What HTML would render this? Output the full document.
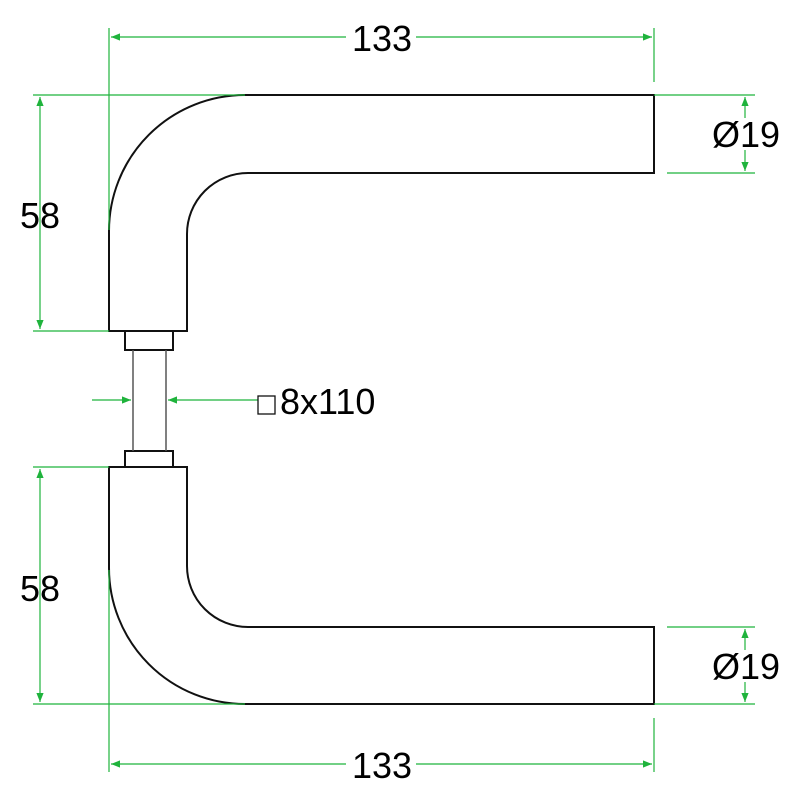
<!DOCTYPE html>
<html><head><style>body{margin:0;background:#fff}svg{display:block}</style></head><body>
<svg width="800" height="800" viewBox="0 0 800 800" xmlns="http://www.w3.org/2000/svg">
<defs>
<marker id="a" viewBox="0 0 10 10" refX="10" refY="5" markerWidth="16" markerHeight="9" markerUnits="userSpaceOnUse" orient="auto-start-reverse"><path d="M0,1 L10,5 L0,9z" fill="#1fb33c"/></marker>
</defs>
<g fill="none" stroke="#111" stroke-width="2">
<path d="M109,331 L109,231 A136,136 0 0 1 245,95 L654,95 L654,173 L248,173 A61,61 0 0 0 187,234 L187,331 Z"/>
<rect x="125" y="331" width="48" height="19"/>
<rect x="125" y="451" width="48" height="16"/>
<path d="M109,467 L109,568 A136,136 0 0 0 245,704 L654,704 L654,627 L248,627 A61,61 0 0 1 187,566 L187,467 Z"/>
</g>
<g stroke="#555" stroke-width="1.5"><line x1="133" y1="350" x2="133" y2="451"/><line x1="166" y1="350" x2="166" y2="451"/></g>
<g stroke="#1fb33c" stroke-width="1.2" fill="none">
<line x1="109" y1="28" x2="109" y2="230"/><line x1="654" y1="28" x2="654" y2="82"/>
<line x1="111" y1="37" x2="652" y2="37" marker-start="url(#a)" marker-end="url(#a)"/>
<line x1="109" y1="570" x2="109" y2="772"/><line x1="654" y1="718" x2="654" y2="772"/>
<line x1="111" y1="764" x2="652" y2="764" marker-start="url(#a)" marker-end="url(#a)"/>
<line x1="33" y1="95" x2="245" y2="95"/><line x1="33" y1="331" x2="109" y2="331"/>
<line x1="40" y1="97" x2="40" y2="329" marker-start="url(#a)" marker-end="url(#a)"/>
<line x1="33" y1="467" x2="109" y2="467"/><line x1="33" y1="704" x2="245" y2="704"/>
<line x1="40" y1="469" x2="40" y2="702" marker-start="url(#a)" marker-end="url(#a)"/>
<line x1="654" y1="95" x2="755" y2="95"/><line x1="667" y1="173" x2="755" y2="173"/>
<line x1="745" y1="97" x2="745" y2="118" marker-start="url(#a)"/><line x1="745" y1="150" x2="745" y2="171" marker-end="url(#a)"/>
<line x1="667" y1="627" x2="755" y2="627"/><line x1="654" y1="704" x2="755" y2="704"/>
<line x1="745" y1="629" x2="745" y2="650" marker-start="url(#a)"/><line x1="745" y1="682" x2="745" y2="702" marker-end="url(#a)"/>
<line x1="92" y1="400" x2="131" y2="400" marker-end="url(#a)"/>
<line x1="258" y1="400" x2="168" y2="400" marker-end="url(#a)"/>
</g>
<rect x="258" y="396" width="17" height="18" fill="none" stroke="#111" stroke-width="1.3"/>
<g font-family="Liberation Sans, sans-serif" font-size="36" fill="#000">
<rect x="346" y="22" width="70" height="30" fill="#fff"/><text x="382" y="51" text-anchor="middle">133</text>
<rect x="346" y="749" width="70" height="30" fill="#fff"/><text x="382" y="778" text-anchor="middle">133</text>
<text x="40" y="228" text-anchor="middle">58</text>
<text x="40" y="601" text-anchor="middle">58</text>
<text x="746" y="147" text-anchor="middle">Ø19</text>
<text x="746" y="679" text-anchor="middle">Ø19</text>
<text x="280" y="414">8x110</text>
</g>
</svg>
</body></html>
